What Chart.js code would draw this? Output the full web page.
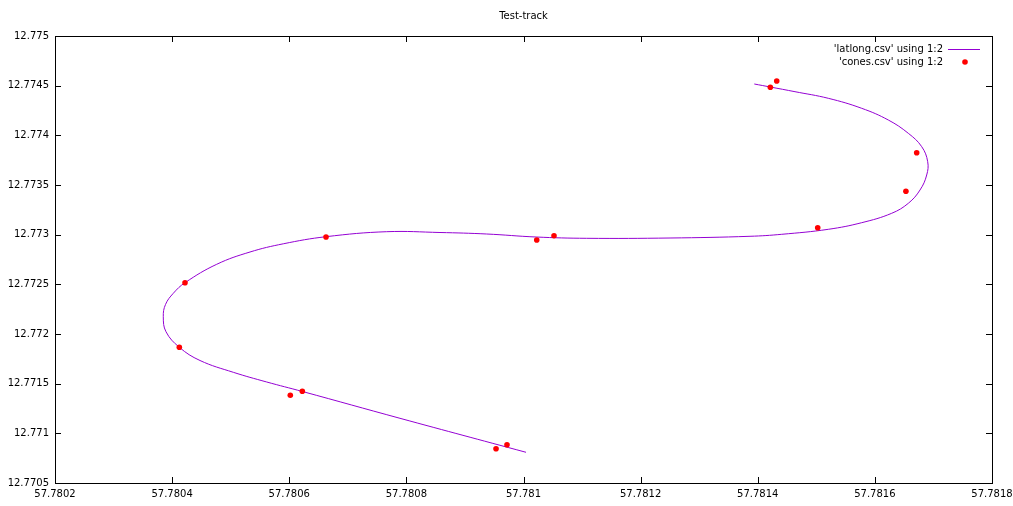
<!DOCTYPE html>
<html>
<head>
<meta charset="utf-8">
<title>Test-track</title>
<script src="https://cdn.jsdelivr.net/npm/chart.js@4.4.1/dist/chart.umd.min.js"></script>
<style>
 body { margin: 0; background: #fff; }
 #box { width: 1013px; height: 506px; }
</style>
</head>
<body>
<div id="box"><canvas id="myChart" width="1013" height="506"></canvas></div>
<script>
// latlong.csv, columns 1:2
var trackX = [57.7810043, 57.7807891, 57.7806226, 57.7805615, 57.7805045, 57.7804476, 57.7804123,
  57.7803895, 57.7803849, 57.7803887, 57.780402, 57.780422, 57.7804761,
  57.780533, 57.7805898, 57.7806628, 57.7807664, 57.7808574, 57.7809372, 57.7810214, 57.7811079,
  57.7812502, 57.7813868, 57.7814409, 57.7815205, 57.7815775, 57.7816287, 57.7816571, 57.7816771,
  57.7816885, 57.7816902, 57.78168, 57.7816571, 57.7816229, 57.7815775, 57.7815205, 57.7814636,
  57.7814214, 57.7813941];
var trackY = [12.7708091, 12.7711513, 12.7714211, 12.7715168, 12.7716144, 12.7717332, 12.7718661,
  12.7720232, 12.7721742, 12.772297, 12.7724097, 12.7725164, 12.7727017,
  12.7728255, 12.772908, 12.7729795, 12.7730299, 12.7730218, 12.7730067, 12.7729765, 12.7729634,
  12.7729664, 12.7729836, 12.7730036, 12.773054, 12.7731205, 12.7732151, 12.7733158, 12.7734497,
  12.7736007, 12.7737346, 12.7738856, 12.7740205, 12.7741544, 12.7742721, 12.7743728, 12.7744393,
  12.7744866, 12.7745168];

// cones.csv, columns 1:2
var conesX = [57.7814324, 57.7814215, 57.7816714, 57.781653, 57.7815024, 57.7810521, 57.7810226,
  57.7806628, 57.780422, 57.7804123, 57.7806223, 57.7806018, 57.7809531, 57.7809718];
var conesY = [12.774547, 12.7744836, 12.7738252, 12.7734366, 12.7730702, 12.7729896, 12.7729463,
  12.7729765, 12.7725165, 12.7718661, 12.7714232, 12.7713839, 12.7708453, 12.7708856];

var xTicks = [57.7802, 57.7804, 57.7806, 57.7808, 57.781, 57.7812, 57.7814, 57.7816, 57.7818];
var yTicks = [12.7705, 12.771, 12.7715, 12.772, 12.7725, 12.773, 12.7735, 12.774, 12.7745, 12.775];
var seriesNames = ["'latlong.csv' using 1:2", "'cones.csv' using 1:2"];
var chartTitle = 'Test-track';

function toPoints(xs, ys) {
  var pts = [];
  for (var i = 0; i < xs.length; i++) {
    pts.push({x: xs[i], y: ys[i]});
  }
  return pts;
}

function tickText(v) {
  return String(+v.toFixed(4));
}

// border box + inward ticks on all four sides, like gnuplot
var gnuFrame = {
  id: 'gnuFrame',
  afterDatasetsDraw: function (chart) {
    var ctx = chart.ctx;
    var a = chart.chartArea;
    var sx = chart.scales.x, sy = chart.scales.y;
    var len = 6;
    ctx.save();
    ctx.strokeStyle = '#000';
    ctx.lineWidth = 1;
    ctx.beginPath();
    for (var i = 0; i < xTicks.length; i++) {
      var px = Math.round(sx.getPixelForValue(xTicks[i])) + 0.5;
      ctx.moveTo(px, a.bottom); ctx.lineTo(px, a.bottom - len);
      ctx.moveTo(px, a.top); ctx.lineTo(px, a.top + len);
    }
    for (var j = 0; j < yTicks.length; j++) {
      var py = Math.round(sy.getPixelForValue(yTicks[j])) + 0.5;
      ctx.moveTo(a.left, py); ctx.lineTo(a.left + len, py);
      ctx.moveTo(a.right, py); ctx.lineTo(a.right - len, py);
    }
    ctx.stroke();
    ctx.strokeRect(Math.round(a.left) + 0.5, Math.round(a.top) + 0.5,
      Math.round(a.right - a.left), Math.round(a.bottom - a.top));
    ctx.restore();
  }
};

// key in the top right corner: text first, sample after it
var gnuKey = {
  id: 'gnuKey',
  afterDraw: function (chart) {
    var ctx = chart.ctx;
    var a = chart.chartArea;
    var ds = chart.data.datasets;
    var textRight = a.right - 49;
    ctx.save();
    ctx.font = '10px "DejaVu Sans"';
    ctx.fillStyle = '#000';
    ctx.textAlign = 'right';
    ctx.textBaseline = 'middle';
    for (var i = 0; i < ds.length; i++) {
      var y = a.top + 13 + i * 13;
      ctx.fillText(ds[i].label, textRight, y);
      if (ds[i].showLine) {
        ctx.strokeStyle = ds[i].borderColor;
        ctx.lineWidth = 1;
        ctx.beginPath();
        ctx.moveTo(textRight + 5, y + 0.5);
        ctx.lineTo(textRight + 37, y + 0.5);
        ctx.stroke();
      } else {
        ctx.fillStyle = ds[i].backgroundColor;
        ctx.beginPath();
        ctx.arc(textRight + 22, y, 2.8, 0, Math.PI * 2);
        ctx.fill();
        ctx.fillStyle = '#000';
      }
    }
    ctx.restore();
  }
};

Chart.defaults.font.family = '"DejaVu Sans", sans-serif';
Chart.defaults.font.size = 10;
Chart.defaults.color = '#000';

var ctx = document.getElementById('myChart').getContext('2d');
window.chart = new Chart(ctx, {
  type: 'scatter',
  data: {
    datasets: [
      {
        label: seriesNames[0],
        data: toPoints(trackX, trackY),
        showLine: true,
        borderColor: '#9400d3',
        backgroundColor: '#9400d3',
        borderWidth: 1,
        pointRadius: 0,
        tension: 0.4,
        order: 1
      },
      {
        label: seriesNames[1],
        data: toPoints(conesX, conesY),
        showLine: false,
        borderColor: '#ff0000',
        backgroundColor: '#ff0000',
        pointRadius: 2.8,
        pointBorderWidth: 0,
        order: 0
      }
    ]
  },
  options: {
    responsive: false,
    animation: false,
    layout: { padding: { left: 0, right: 21, top: 0, bottom: 0 } },
    plugins: {
      legend: { display: false },
      tooltip: { enabled: false },
      title: {
        display: true,
        fullSize: false, // centre over the plot box, not the canvas
        text: chartTitle,
        font: { size: 10, weight: 'normal' },
        color: '#000',
        padding: { top: 10, bottom: 14 }
      }
    },
    scales: {
      x: {
        type: 'linear',
        min: xTicks[0],
        max: xTicks[xTicks.length - 1],
        grid: { display: false, drawTicks: false },
        border: { display: false },
        afterBuildTicks: function (axis) {
          axis.ticks = xTicks.map(function (v) { return {value: v}; });
        },
        afterFit: function (axis) {
          axis.height = 23;
          axis.paddingLeft = 0;
          axis.paddingRight = 0;
        },
        ticks: {
          autoSkip: false,
          maxRotation: 0,
          padding: 5,
          callback: tickText
        }
      },
      y: {
        type: 'linear',
        min: yTicks[0],
        max: yTicks[yTicks.length - 1],
        grid: { display: false, drawTicks: false },
        border: { display: false },
        afterBuildTicks: function (axis) {
          axis.ticks = yTicks.map(function (v) { return {value: v}; });
        },
        afterFit: function (axis) {
          axis.width = 55;
          axis.paddingTop = 0;
          axis.paddingBottom = 0;
        },
        ticks: {
          autoSkip: false,
          padding: 6,
          callback: tickText
        }
      }
    }
  },
  plugins: [gnuFrame, gnuKey]
});
</script>
</body>
</html>
